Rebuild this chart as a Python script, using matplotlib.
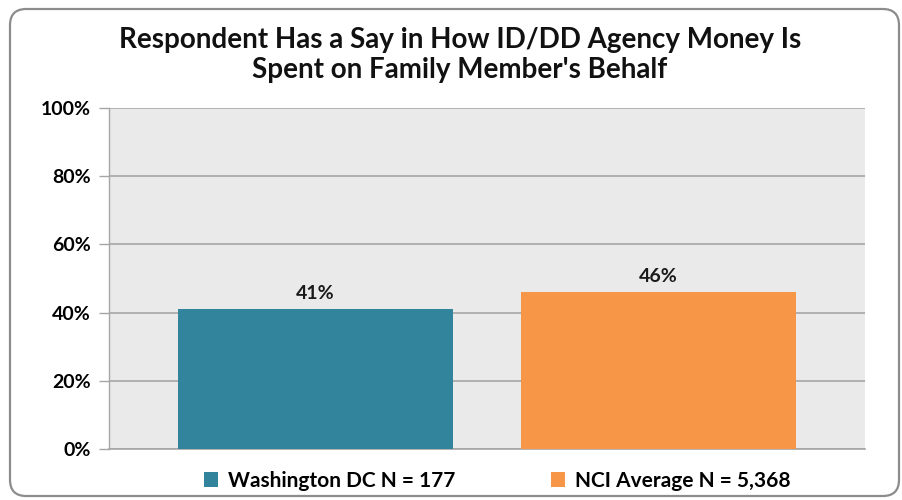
import matplotlib.pyplot as plt
from matplotlib.patches import FancyBboxPatch, Patch

# data
groups = ['Washington DC N = 177', 'NCI Average N = 5,368']
values = [41, 46]
colors = ['#31849B', '#F79646']
yticks = [0, 20, 40, 60, 80, 100]
title = "Respondent Has a Say in How ID/DD Agency Money Is\nSpent on Family Member's Behalf"

plt.rcParams['font.family'] = ['Lato', 'DejaVu Sans']

fig = plt.figure(figsize=(9.02, 5.0), dpi=100)

# rounded outer frame
frame = FancyBboxPatch((10 / 902, 4 / 500), 889 / 902, 487 / 500,
                       boxstyle='round,pad=0,rounding_size=0.018',
                       transform=fig.transFigure, facecolor='white',
                       edgecolor='#8c8c8c', linewidth=1.6, zorder=-10,
                       mutation_aspect=902 / 500)
fig.patches.append(frame)

ax = fig.add_axes([109 / 902, 51 / 500, 756 / 902, 341 / 500])
ax.set_facecolor('#EAEAEA')

x = list(range(len(values)))
bars = ax.bar(x, values, width=0.802, color=colors, zorder=3)

for xi, v in zip(x, values):
    ax.text(xi, v + 2.0, f'{v}%', ha='center', va='bottom',
            fontsize=14, fontweight='bold', color='#1a1a1a', zorder=4)

ax.set_xlim(-0.602, 1.602)
ax.set_ylim(0, 100)
ax.set_yticks(yticks)
ax.set_yticklabels([f'{t}%' for t in yticks], fontsize=14, fontweight='bold')
ax.set_xticks([])
ax.yaxis.grid(True, color='#a6a6a6', linewidth=1.2, zorder=0)
ax.tick_params(axis='y', length=7, width=1.0, color='#a6a6a6', pad=6)
for side in ['top', 'right']:
    ax.spines[side].set_visible(False)
ax.spines['left'].set_color('#a6a6a6')
ax.spines['bottom'].set_color('#a6a6a6')
ax.spines['left'].set_linewidth(1.0)
ax.spines['bottom'].set_linewidth(1.2)

fig.text(460 / 902, 1 - 55 / 500, title, ha='center', va='center',
         fontsize=20, fontweight='bold', color='#111111', linespacing=1.2)

handles = [Patch(facecolor=c, edgecolor='none') for c in colors]
fig.legend(handles, groups, loc='center', bbox_to_anchor=(497 / 902, 1 - 481 / 500),
           ncol=2, frameon=False, handlelength=0.7, handleheight=0.7,
           handletextpad=0.45, columnspacing=4.6,
           prop={'size': 15, 'weight': 'bold'})

fig.savefig('out.png', dpi=100)
